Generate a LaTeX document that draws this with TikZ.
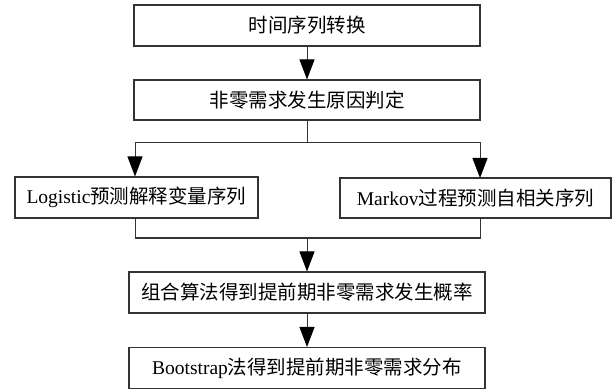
\documentclass[tikz,border=0pt]{standalone}
\usepackage{fontspec}
\setmainfont{Liberation Serif}
\newfontfamily\cjk{Noto Sans CJK SC}
\usetikzlibrary{arrows.meta}
\begin{document}
\begin{tikzpicture}[x=1pt,y=-1pt,
  box/.style={draw=black!80,line width=1.1pt,inner sep=0pt,minimum height=#1,font=\fontsize{19.5}{22}\selectfont},
  box/.default=41pt,
  conn/.style={draw=black!80,line width=1pt},
  arr/.style={conn,-{Triangle[length=20pt,width=15pt,fill=black,color=black]}}]
\useasboundingbox (0,0) rectangle (613,390);
\node[box,minimum width=346pt] (b1) at (307,25.5) {\cjk 时间序列转换};
\node[box=40pt,minimum width=346pt] (b2) at (307,100) {\cjk 非零需求发生原因判定};
\node[box,minimum width=243pt] (l) at (136.5,197.5) {Logistic{\cjk 预测解释变量序列}};
\node[box=40pt,minimum width=271pt] (r) at (475.5,198) {Markov{\cjk 过程预测自相关序列}};
\node[box,minimum width=356pt] (b3) at (307,292.5) {\cjk 组合算法得到提前期非零需求发生概率};
\node[box,minimum width=356pt] (b4) at (307,368) {Bootstrap{\cjk 法得到提前期非零需求分布}};
\coordinate (split) at (307,143);
\coordinate (merge) at (307,238);
\coordinate (rin) at (480,178);
\draw[arr] (b1) -- (b2);
\draw[conn] (b2) -- (split);
\draw[arr] (split) -| ([xshift=-1.5pt]l.north);
\draw[arr] (split) -| (rin);
\draw[conn] ([xshift=-1.5pt]l.south) |- (merge) -| (rin |- r.south);
\draw[arr] (merge) -- (b3);
\draw[arr] (b3) -- (b4);
\end{tikzpicture}
\end{document}
